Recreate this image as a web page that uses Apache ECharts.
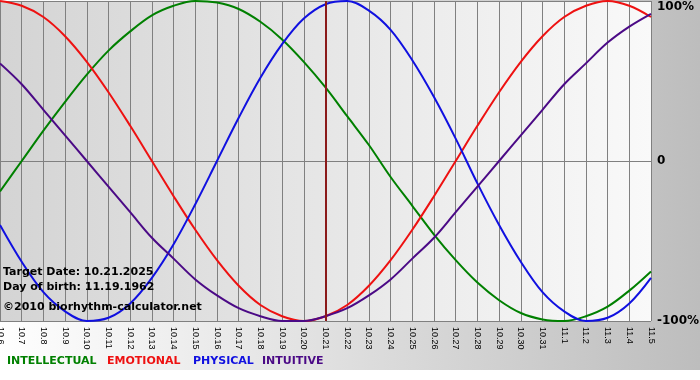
<!DOCTYPE html>
<html>
<head>
<meta charset="utf-8">
<script src="https://cdn.jsdelivr.net/npm/echarts@6/dist/echarts.min.js"></script>
<style>
    html, body {margin: 0; padding: 0; background: #fff;}
    #bio {width: 700px; height: 380px;}
</style>
</head>
<body>
<div id="bio"></div>
<script>
    //days on the x axis
    var days = ["10.6", "10.7", "10.8", "10.9", "10.10", "10.11", "10.12", "10.13", "10.14", "10.15",
        "10.16", "10.17", "10.18", "10.19", "10.20", "10.21", "10.22", "10.23", "10.24", "10.25",
        "10.26", "10.27", "10.28", "10.29", "10.30", "10.31", "11.1", "11.2", "11.3", "11.4", "11.5"];
    //values in percent
    var intellectual = [-19, 0, 19, 37, 54, 69, 81, 91, 97, 100, 99, 95, 87, 76, 62, 46, 28, 10, -10, -28,
        -46, -62, -76, -87, -95, -99, -100, -97, -91, -81, -69];
    var emotional = [100, 97, 90, 78, 62, 43, 22, 0, -22, -43, -62, -78, -90, -97, -100, -97, -90, -78, -62, -43,
        -22, 0, 22, 43, 62, 78, 90, 97, 100, 97, 90];
    var physical = [-40, -63, -82, -94, -100, -98, -89, -73, -52, -27, 0, 27, 52, 73, 89, 98, 100, 94, 82, 63,
        40, 14, -14, -40, -63, -82, -94, -100, -98, -89, -73];
    var intuitive = [61, 48, 32, 16, 0, -16, -32, -48, -61, -74, -84, -92, -97, -100, -100, -97, -92, -84, -74, -61,
        -48, -32, -16, 0, 16, 32, 48, 61, 74, 84, 92];
    var yTicks = [-100, 0, 100];
    var targetDay = "10.21";
    var infoLines = ["Target Date: 10.21.2025", "Day of birth: 11.19.1962", "\u00a92010 biorhythm-calculator.net"];
    var legendNames = ["INTELLECTUAL", "EMOTIONAL", "PHYSICAL", "INTUITIVE"];
    var colors = ["#008000", "#ee1111", "#1010e0", "#4b0a86"];

    var chart = echarts.init(document.getElementById("bio"));

    function curve(name, data, color) {
        return {
            name: name,
            type: "line",
            data: data,
            smooth: 0.35,
            showSymbol: false,
            silent: true,
            lineStyle: {color: color, width: 2},
            itemStyle: {color: color}
        };
    }

    var series = [
        curve(legendNames[0], intellectual, colors[0]),
        curve(legendNames[1], emotional, colors[1]),
        curve(legendNames[2], physical, colors[2]),
        curve(legendNames[3], intuitive, colors[3])
    ];
    //target date marker
    series[0].markLine = {
        silent: true,
        symbol: "none",
        label: {show: false},
        lineStyle: {color: "#8b1a1a", width: 2, type: "solid"},
        data: [{xAxis: targetDay}]
    };

    var graphics = [
        {type: "rect", left: 0, top: 370, shape: {width: 700, height: 10}, style: {fill: "#fff"}, z: -1}
    ];
    infoLines.forEach(function (t, i) {
        graphics.push({
            type: "text", left: 3, top: [267, 282, 302][i], z: 100,
            style: {text: t, font: "bold 11px 'DejaVu Sans'", fill: "#000"}
        });
    });
    var legendX = [7, 107, 193, 262];
    legendNames.forEach(function (t, i) {
        graphics.push({
            type: "text", left: legendX[i], top: 356, z: 100,
            style: {text: t, font: "bold 11px 'DejaVu Sans'", fill: colors[i]}
        });
    });

    var option = {
        animation: false,
        backgroundColor: new echarts.graphic.LinearGradient(0, 0, 1, 0, [
            {offset: 0, color: "#ffffff"},
            {offset: 1, color: "#bdbdbd"}
        ]),
        grid: {
            left: 0, right: 49, top: 1, bottom: 59,
            containLabel: false,
            outerBoundsMode: "none",
            show: true, borderWidth: 0,
            backgroundColor: new echarts.graphic.LinearGradient(0, 0, 1, 0, [
                {offset: 0, color: "#d4d4d4"},
                {offset: 1, color: "#f9f9f9"}
            ])
        },
        xAxis: {
            type: "category",
            data: days,
            boundaryGap: false,
            axisLine: {lineStyle: {color: "#808080", width: 1}},
            axisTick: {show: true, interval: 0, length: 4, lineStyle: {color: "#808080"}},
            splitLine: {show: true, interval: 0, lineStyle: {color: "#808080", width: 1}},
            axisLabel: {
                interval: 0, rotate: -90, margin: 6,
                color: "#000", fontFamily: "Liberation Sans", fontSize: 9
            }
        },
        yAxis: {
            type: "value",
            position: "right",
            min: yTicks[0], max: yTicks[2], interval: 100,
            axisLine: {show: false},
            axisTick: {show: false},
            splitLine: {show: true, lineStyle: {color: "#808080", width: 1}},
            axisLabel: {
                margin: 6,
                color: "#000", fontFamily: "DejaVu Sans", fontWeight: "bold", fontSize: 12,
                verticalAlignMaxLabel: "top",
                formatter: function (v) {
                    return v === 0 ? "0" : v + "%";
                }
            }
        },
        graphic: graphics,
        series: series
    };
    chart.setOption(option);
</script>
</body>
</html>
